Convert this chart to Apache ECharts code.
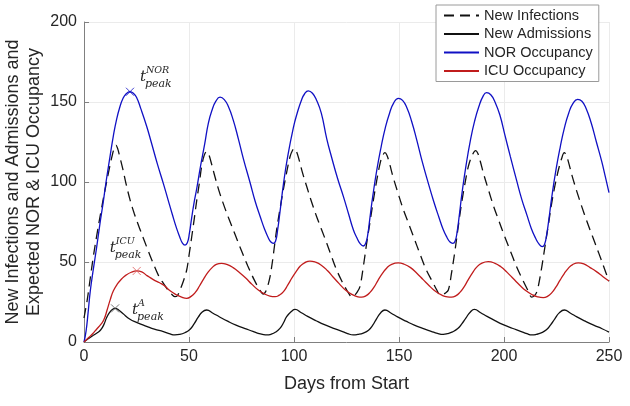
<!DOCTYPE html>
<html>
<head>
<meta charset="utf-8">
<script src="https://cdn.jsdelivr.net/npm/echarts@6/dist/echarts.min.js"></script>
<style>html,body{margin:0;padding:0;background:#fff;}#c{width:630px;height:406px;}</style>
</head>
<body>
<div id="c"></div>
<script>
// ---- data (day, value) ----
const xTicks = [0, 50, 100, 150, 200, 250];
const yTicks = [0, 50, 100, 150, 200];
const seriesNames = ['New Infections', 'New Admissions', 'NOR Occupancy', 'ICU Occupancy'];

const newInfections = [
[0,15],[1.5,26],[3,40],[4.4,53],[6,66],[8,81],[10,95],[12,108],[13.5,117],[14.5,121.5],[15.2,123],[16,121],[17,116],[18.5,108],[20,99],[21.9,89],[24,80],[26.5,71],[29.8,59.6],[33,49],[35.5,41.5],[37.8,36.7],[40,32.5],[42,29.5],[43.3,28.3],
[44.5,29],[45.7,32.5],[47.3,38],[48.9,45],[50.1,55],[51.3,65.8],[52.5,77],[53.7,88.7],[55,100],[56,109.6],[57.2,116.5],[58.4,119],
[59.3,117.5],[60.4,113],[62,105],[64.4,94],[67,84],[69,77],[72,67],[75,57],[78,47.5],[81,39],[83.5,33],[85.4,30],
[86.5,31.5],[87.6,35.5],[88.6,40.8],[89.7,50],[90.7,60],[91.7,70],[93.3,83],[94.9,95],[96.5,106],[98.1,115.8],[99.2,119.5],[100.2,121],
[101.2,119],[102.4,114],[104,106],[106.1,97],[108.5,87],[110.8,78.3],[113.2,70],[115.6,61.7],[118,53],[120.3,45],[122.8,38],[125.1,32.5],[126.5,29.5],[127.5,28],
[128.7,29],[130,31],[131.4,34.6],[133,47],[134.6,61.7],[136.2,75],[137.8,88.7],[139.4,101],[141,111.7],[142.2,116.5],[143.3,118.3],
[144.3,116.5],[145.5,111.5],[147,104],[149.3,94],[152,83],[154,76],[157,65.5],[160,55],[163,45],[166,37.5],[168,32.5],[169.5,29.5],
[170.5,29.5],[172,30.5],[173.5,32.5],[175,43],[176.7,57.5],[178.2,72],[179.8,86.7],[181.4,99],[183,109.6],[184.8,116.5],[186.5,119.6],
[187.5,118],[188.7,113],[190.2,105.5],[192.5,95.5],[195,85],[197.2,77],[200,67],[203,57],[206,47],[209,38.5],[211.3,32.5],[213.2,28],
[214.5,29],[215.5,31],[216.3,34.6],[218,47],[219.5,59.6],[221.1,73],[222.7,86.7],[224.3,98],[225.9,107.5],[227.4,114.5],[228.7,118.3],
[229.7,116.5],[230.9,111.5],[232.4,104],[234.7,94],[237.2,84],[239.3,76],[242,66.5],[245,56],[247.5,47],[250,38]
];

const newAdmissions = [
[0,0],[2,2],[4,3.8],[6,5.5],[7.9,7.5],[9.5,11],[10.8,15.3],[12.2,18.5],[13.5,20.3],[14.8,21],[16.5,20],[18.5,17.8],[21.9,14.2],[25,12.3],[29.8,9.8],[33.5,8],[37.8,6.5],[40.5,5.3],[43.3,4.4],
[45.5,4.7],[48,5.8],[50.4,7.8],[52.5,11.5],[54.4,15.5],[56.3,18.8],[58.4,20],
[61.4,18],[64.4,15.8],[68.4,13],[72.4,10.5],[76.4,8.5],[80.4,6.7],[83.4,5.3],[85.5,4.6],[87,4.4],
[89,4.8],[91.3,6.2],[93.3,8.5],[95,12],[96.5,15.8],[98.9,19.2],[100.5,20.4],
[103.5,18.3],[106.5,16],[110.5,13.3],[114.5,10.8],[118.5,8.7],[122.5,6.8],[125.5,5.3],[128.2,4.4],
[130.3,4.7],[133,5.6],[135.5,7.4],[137.5,10.5],[139.3,14.5],[141.3,18.3],[143.3,20],
[146.3,18],[149.3,15.7],[153.3,13],[157.3,10.5],[161.3,8.5],[165.3,6.7],[168.3,5.4],[171.1,4.8],
[173,5.2],[175.5,6.3],[178,8.4],[180,11.5],[182,15.3],[184,18.8],[185.9,20.4],
[188.9,18.3],[191.9,16],[195.9,13.2],[199.9,10.7],[203.9,8.6],[207.9,6.7],[210.9,5.2],[213.2,4.4],
[215.2,4.7],[217.7,5.7],[220.2,7.6],[222.2,10.7],[224.2,14.5],[226.3,18.2],[228.7,20],
[231.7,18],[234.7,15.7],[238.7,13],[242.7,10.5],[246.7,8.3],[250,6.2]
];

const norOccupancy = [
[0,0],[1,7],[2,19],[3,32],[4.5,46],[6,59],[7.6,74],[9,86],[10.5,100],[12.4,116],[14,129],[15.5,139],[17.1,147],[18.5,152],[20,155],[21.9,156.4],[23.5,155.5],[25,153],[27,146],[29.8,135],[32,125],[35,111],[37.8,99],[40,89],[42,80],[44.1,71],[45.5,66],[46.8,62],[48.1,60.6],
[49.2,62],[50.2,68],[51.2,77],[52.4,87],[53.7,96],[55.5,110],[57.5,124],[59.2,136.7],[61,145],[62.8,150.5],[64.8,153],[66.8,151.5],[68.8,147],[71,139],[73.5,127],[76,114],[79,100],[81.5,88],[84,78],[86,70.5],[87.8,65],[89,62.5],[90.1,61.7],
[91.2,63],[92.2,70],[93.3,81],[95,99],[97,116],[99.7,134],[101.5,143],[103.5,151],[105,155],[106.8,157],[108.8,155.5],[110.8,151],[113,143],[115.6,127],[118,115],[120.8,102],[123.5,91],[126,80],[128.3,70],[130,65],[131.5,61.5],[133,60],
[134.1,61.5],[135.1,67],[136.1,77],[137.5,91],[139.5,108],[141.5,122],[143.5,134],[145.5,143],[147.5,149.5],[149.7,152.3],[151.7,151],[153.7,146.5],[156,138],[158.5,126],[161,113],[164,99],[166.5,88],[169,78],[171,70.5],[172.8,65.5],[174.3,62.5],[175.6,61.7],
[176.7,63],[177.7,69],[178.7,79],[180,93],[182,111],[184,126],[186,138],[188,147],[190,153.5],[191.7,155.8],[193.7,154.5],[195.7,150],[198,142],[200.5,129],[203,116],[206,101],[208.5,89],[211,79],[213,71],[215,65],[216.8,61],[218.2,59.6],
[219.3,61],[220.3,67],[221.3,76],[222.8,91],[224.8,108],[226.8,122],[228.8,134],[230.8,143],[232.8,149],[235.1,151.7],[237.1,150.5],[239.1,146],[241.5,137],[244,125],[246.5,113],[248.3,103],[250,93.3]
];

const icuOccupancy = [
[0,0],[2,2.5],[4,5],[6,8],[8,11],[9.5,14],[11,20],[12.5,26.5],[14,32],[16,36.5],[18,39.5],[20,41.8],[22.5,43.6],[25.1,44.4],[27.5,43.8],[30,41.5],[33,39],[36,37],[38,35.5],[41,32],[44,29.5],[46.5,28],[48.9,27.3],
[51,28.5],[53,31],[55,35],[57,39.5],[59,43.5],[61,46.5],[63,48.5],[65.5,49.2],[68,48.5],[71,46.5],[74,43.5],[77,40],[80,36],[83,32.5],[86,30],[88.5,28.7],[91,28.3],
[93,29.3],[95,31.5],[97,35.5],[99,40],[101,44],[103,47.5],[105,49.5],[107.6,50.6],[110,50],[113,48],[116,44.5],[118.7,40.5],[121.5,36.5],[124.5,32.5],[127.5,29.8],[130,28.4],[132.2,28],
[134.2,28.8],[136.2,31],[138.2,34.5],[140.2,39],[142.2,43],[144.2,46.3],[146.5,48.5],[149.7,49.4],[152.5,48.6],[155.5,46.5],[158.5,43],[161.5,39],[164.5,35],[167.5,31.5],[170.5,29.2],[173,28.2],[175,28],
[177,28.8],[179,31],[181,34.5],[183,39],[185,43.2],[187,46.8],[189.5,49.3],[192.5,50.2],[195.5,49.3],[198.5,47],[201.5,43.5],[204.5,39.5],[207.5,35.5],[210.5,32],[213.5,29.5],[216,28.2],[218.7,27.7],
[220.7,28.5],[222.7,30.7],[224.7,34.3],[226.7,38.7],[228.7,42.8],[230.7,46.2],[232.7,48.4],[235.4,49.5],[238,48.8],[241,46.5],[244,44],[247,41],[250,38.1]
];

// peak markers: [day, value]
const peakNOR = [21.9, 156.4];
const peakICU = [25.1, 44.4];
const peakA = [14.8, 21];

const TXT = '#262626';
const BLUE = '#1010c4';
const RED = '#c01c1c';
const FONT = '"Liberation Sans", Arial, sans-serif';

const chart = echarts.init(document.getElementById('c'), null, {renderer: 'canvas'});
const cross = 'path://M0,0L10,10M10,0L0,10';

const option = {
  animation: false,
  backgroundColor: '#fff',
  grid: {left: 84, right: 21, top: 22, bottom: 64, containLabel: false},
  legend: {
    data: seriesNames,
    orient: 'vertical',
    left: 436, top: 5,
    padding: [3, 6, 3, 7],
    itemGap: 3.5,
    itemWidth: 35, itemHeight: 14,
    backgroundColor: '#fff',
    borderColor: '#9a9a9a', borderWidth: 1, borderRadius: 0,
    itemStyle: {opacity: 0},
    textStyle: {color: TXT, fontSize: 14.5, fontFamily: FONT, lineHeight: 15}
  },
  xAxis: {
    type: 'value', min: 0, max: 250, interval: 50,
    name: 'Days from Start', nameLocation: 'middle', nameGap: 33,
    nameTextStyle: {color: TXT, fontSize: 18, fontFamily: FONT},
    axisLine: {show: true, lineStyle: {color: '#808080', width: 1}},
    axisTick: {show: true, inside: true, length: 5, lineStyle: {color: '#808080'}},
    axisLabel: {color: TXT, fontSize: 16, margin: 7, fontFamily: FONT,
      formatter: v => xTicks.includes(v) ? String(v) : ''},
    splitLine: {show: true, lineStyle: {color: '#ebebeb', width: 1}}
  },
  yAxis: {
    type: 'value', min: 0, max: 200, interval: 50,
    axisLine: {show: true, lineStyle: {color: '#808080', width: 1}},
    axisTick: {show: true, inside: true, length: 5, lineStyle: {color: '#808080'}},
    axisLabel: {color: TXT, fontSize: 16, margin: 7, fontFamily: FONT,
      formatter: v => yTicks.includes(v) ? String(v) : ''},
    splitLine: {show: true, lineStyle: {color: '#ebebeb', width: 1}}
  },
  series: [
    {name: seriesNames[0], type: 'line', data: newInfections, symbol: 'none', smooth: 0.35,
      lineStyle: {color: '#111', width: 1.3, type: [10, 6]}, itemStyle: {color: '#111'}, z: 2},
    {name: seriesNames[1], type: 'line', data: newAdmissions, symbol: 'none', smooth: 0.5,
      lineStyle: {color: '#111', width: 1.3}, itemStyle: {color: '#111'}, z: 2},
    {name: seriesNames[2], type: 'line', data: norOccupancy, symbol: 'none', smooth: 0.5,
      lineStyle: {color: BLUE, width: 1.3}, itemStyle: {color: BLUE}, z: 3},
    {name: seriesNames[3], type: 'line', data: icuOccupancy, symbol: 'none', smooth: 0.5,
      lineStyle: {color: RED, width: 1.3}, itemStyle: {color: RED}, z: 3},
    {type: 'scatter', data: [peakNOR], symbol: cross, symbolSize: 8, silent: true,
      itemStyle: {color: 'none', borderColor: BLUE, borderWidth: 1}, z: 5},
    {type: 'scatter', data: [peakICU], symbol: cross, symbolSize: 8, silent: true,
      itemStyle: {color: 'none', borderColor: '#e05a5a', borderWidth: 1}, z: 5},
    {type: 'scatter', data: [peakA], symbol: cross, symbolSize: 8, silent: true,
      itemStyle: {color: 'none', borderColor: '#555', borderWidth: 1}, z: 5}
  ]
};
chart.setOption(option);

// annotations t^{sup}_{peak} placed relative to the peak markers
function annot(pt, dx, dy, sup) {
  const p = chart.convertToPixel({gridIndex: 0}, pt);
  const x = p[0] + dx, y = p[1] + dy;
  const f = 'italic 15px "DejaVu Serif", serif';
  return [
    {type: 'text', x: x, y: y, z: 10, style: {text: 't', font: f, fill: TXT, align: 'left', verticalAlign: 'middle'}},
    {type: 'text', x: x + 6, y: y - 6, z: 10, style: {text: sup, font: 'italic 9.5px "DejaVu Serif", serif', fill: TXT, align: 'left', verticalAlign: 'middle'}},
    {type: 'text', x: x + 5, y: y + 7.5, z: 10, style: {text: 'peak', font: 'italic 11px "DejaVu Serif", serif', fill: TXT, align: 'left', verticalAlign: 'middle'}}
  ];
}
const g = [].concat(
  annot(peakNOR, 10, -15, 'NOR'),
  annot(peakICU, -27, -23, 'ICU'),
  annot(peakA, 17, 1.5, 'A'),
  [{type: 'text', x: 23.5, y: 182, rotation: Math.PI / 2, z: 10,
    style: {text: 'New Infections and Admissions and\nExpected NOR & ICU Occupancy', fill: TXT,
      font: '18px "Liberation Sans", Arial, sans-serif', lineHeight: 21, align: 'center', verticalAlign: 'middle'}}]
);
chart.setOption({graphic: g});
</script>
</body>
</html>
